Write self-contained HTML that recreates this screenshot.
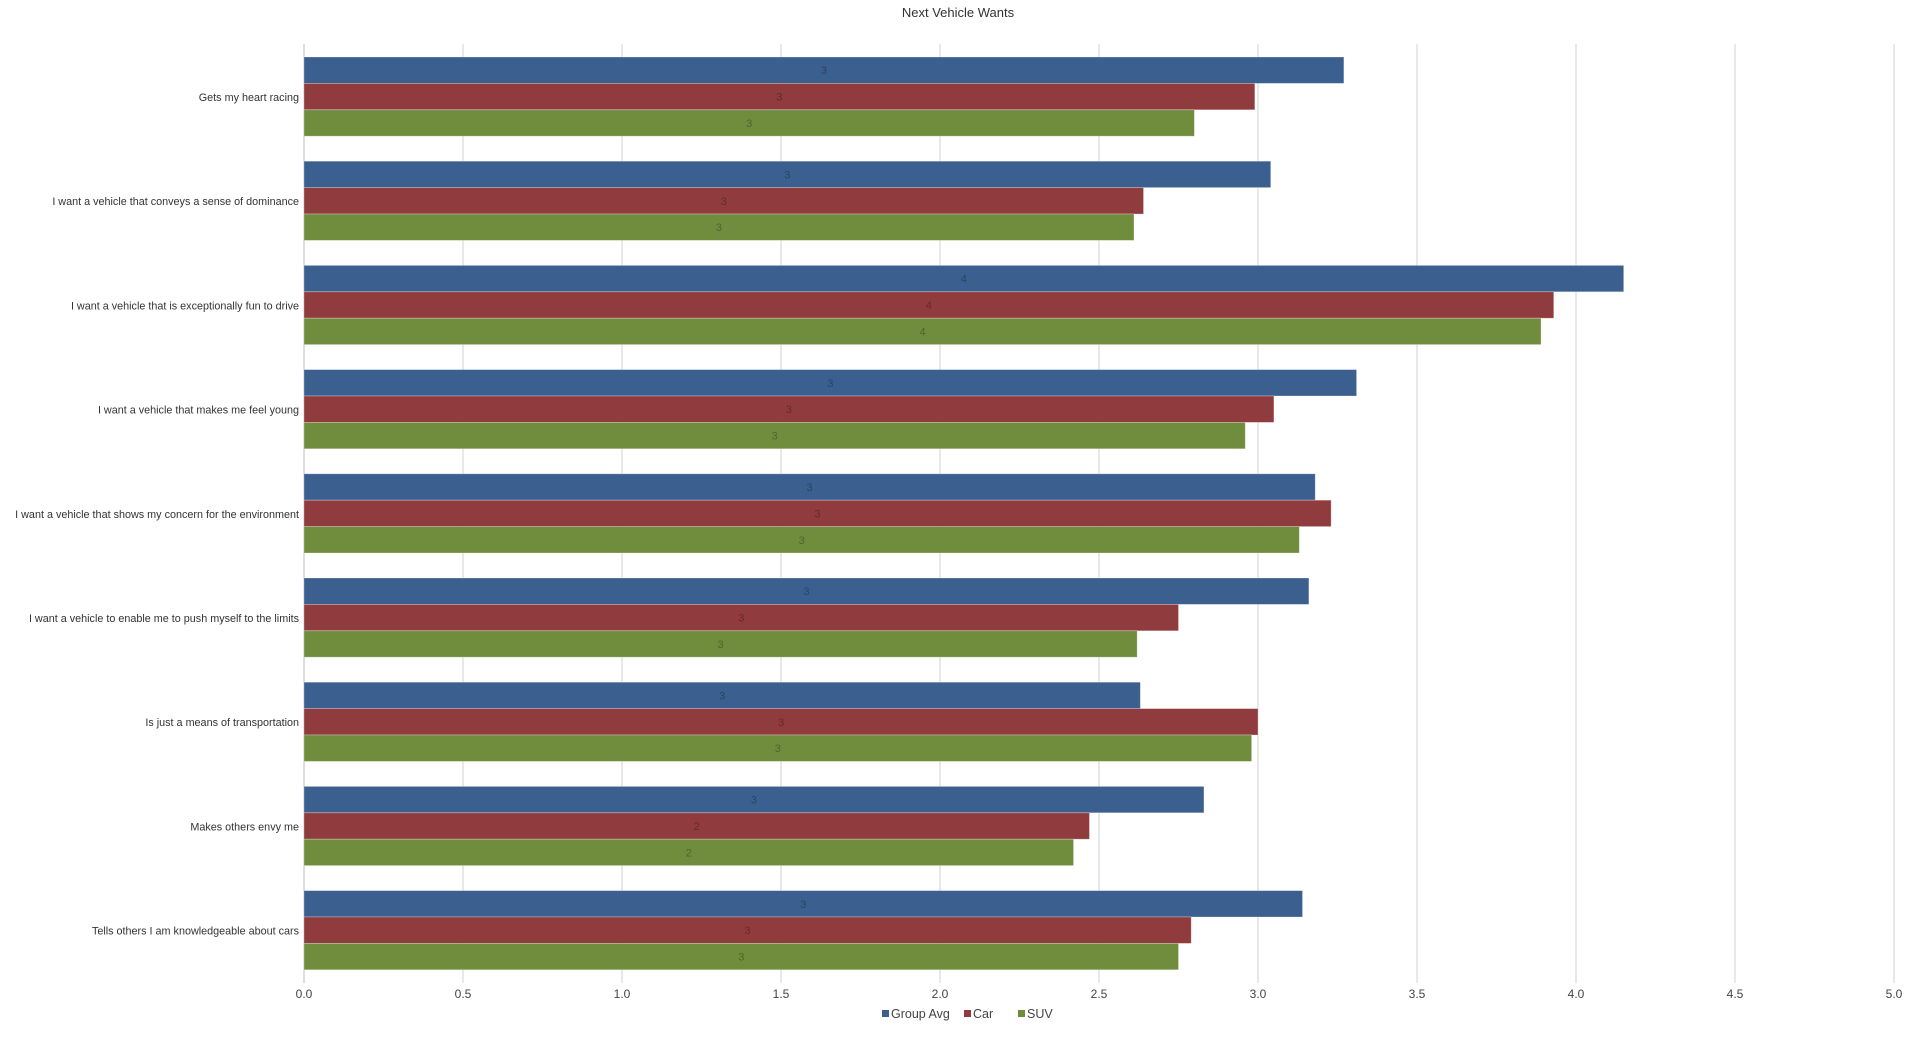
<!DOCTYPE html>
<html><head><meta charset="utf-8"><style>
html,body{margin:0;padding:0;background:#fff;}
body{width:1920px;height:1035px;overflow:hidden;font-family:"Liberation Sans",sans-serif;}
</style></head><body>
<svg id="chart" width="1920" height="1035" xmlns="http://www.w3.org/2000/svg" font-family="Liberation Sans, sans-serif"></svg>
<script>
const categories = ["Gets my heart racing","I want a vehicle that conveys a sense of dominance","I want a vehicle that is exceptionally fun to drive","I want a vehicle that makes me feel young","I want a vehicle that shows my concern for the environment","I want a vehicle to enable me to push myself to the limits","Is just a means of transportation","Makes others envy me","Tells others I am knowledgeable about cars"];
const groupAvg = [3.27,3.04,4.15,3.31,3.18,3.16,2.63,2.83,3.14];
const car = [2.99,2.64,3.93,3.05,3.23,2.75,3.00,2.47,2.79];
const suv = [2.80,2.61,3.89,2.96,3.13,2.62,2.98,2.42,2.75];
const seriesNames = ["Group Avg","Car","SUV"];
const tickLabels = ["0.0","0.5","1.0","1.5","2.0","2.5","3.0","3.5","4.0","4.5","5.0"];
const tickValues = [0,0.5,1,1.5,2,2.5,3,3.5,4,4.5,5];

const NS="http://www.w3.org/2000/svg";
const svg=document.getElementById('chart');
const x0=304, pxPerUnit=318, top0=57, pitch=104.2, barH=26.4, gridTop=44, gridBot=978;
const colors=["#3b5f8e","#903b3d","#708d3e"];
function xs(v){return x0+v*pxPerUnit;}
function yBand(i){return top0+i*pitch;}
function mk(tag,attrs){const e=document.createElementNS(NS,tag);for(const k in attrs)e.setAttribute(k,attrs[k]);svg.appendChild(e);return e;}

let t=mk('text',{x:958,y:17,'text-anchor':'middle','font-size':13,fill:'#333'});t.textContent="Next Vehicle Wants";



tickValues.forEach((v,i)=>{
  const g=mk('line',{x1:xs(v),x2:xs(v),y1:gridTop,y2:gridBot+5,stroke:i===0?'#bbb':'#d0d0d0','stroke-width':1});
  
  
  const l=mk('text',{x:xs(v),y:998,'text-anchor':'middle','font-size':12,fill:'#444'});
  l.textContent=tickLabels[i];
  
  
});

const series=[groupAvg,car,suv];
categories.forEach((c,i)=>{
  const y=yBand(i);
  const lab=mk('text',{x:299,y:y+40+4,'text-anchor':'end','font-size':10.8,fill:'#333'});
  lab.textContent=c;
  
  
  series.forEach((s,j)=>{
    const r=mk('rect',{x:x0,y:y+j*barH,width:xs(s[i])-x0,height:barH,fill:colors[j],stroke:'rgba(255,255,255,0.35)','stroke-width':0.8});
    
    
    const vl=mk('text',{x:xs(s[i]/2),y:y+j*barH+barH/2+4,'text-anchor':'middle','font-size':11,fill:'rgba(0,0,0,0.3)'});
    vl.textContent=Math.round(s[i]);
    
    
  });
});

const legX=[882,964,1018];
seriesNames.forEach((n,j)=>{
  const sq=mk('rect',{x:legX[j],y:1010,width:7,height:7,fill:colors[j]});
  
  
  const lt=mk('text',{x:legX[j]+9,y:1018,'font-size':12.5,fill:'#444'});
  lt.textContent=n;
  
  
});
</script>
</body></html>
